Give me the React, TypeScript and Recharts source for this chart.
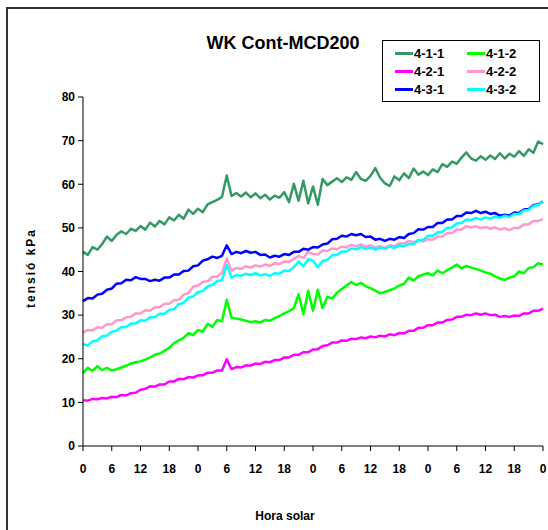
import { LineChart, Line, XAxis, YAxis } from 'recharts';

// hora solar: 4 days, hourly readings
const hours = Array.from({ length: 97 }, (_, i) => i);
const xTicks = [0, 6, 12, 18, 24, 30, 36, 42, 48, 54, 60, 66, 72, 78, 84, 90, 96];
const yTicks = [0, 10, 20, 30, 40, 50, 60, 70, 80];

const s411 = [
  44.5, 43.8, 45.6, 45.0, 46.3, 48.0, 47.0, 48.4, 49.2, 48.6, 49.8, 49.3, 50.4, 49.6, 51.2, 50.3, 51.6, 50.8, 52.4, 51.7, 53.0, 52.1, 54.2, 53.2,
  54.4, 53.6, 55.4, 55.9, 56.4, 57.1, 62.0, 57.3, 58.0, 57.2, 58.1, 57.0, 57.9, 56.8, 57.6, 56.5, 57.4, 56.9, 58.2, 55.9, 60.1, 56.2, 60.8, 55.6,
  59.5, 55.3, 61.2, 59.8, 60.6, 61.4, 60.5, 61.6, 61.0, 62.8, 61.2, 60.8, 61.9, 63.7, 61.5, 60.2, 59.6, 61.8, 60.9, 62.5, 61.4, 63.6, 62.2, 62.9,
  62.1, 63.4, 62.8, 64.6, 64.0, 65.2, 64.7, 66.1, 67.3, 65.9, 65.4, 66.4, 65.6, 66.6, 65.8, 67.1, 65.9, 67.0, 66.3, 67.6, 66.5, 68.0, 67.2, 69.8,
  69.2,
];
const s412 = [
  16.7, 17.9, 17.2, 18.3, 17.4, 17.9, 17.3, 17.6, 18.0, 18.4, 18.9, 19.2, 19.4, 19.8, 20.3, 20.9, 21.2, 21.8, 22.5, 23.6, 24.2, 24.8, 25.9, 25.4,
  26.6, 26.2, 28.0, 27.3, 28.9, 28.6, 33.5, 29.4, 29.2, 29.0, 28.7, 28.4, 28.6, 28.3, 28.9, 28.7, 29.3, 29.8, 30.4, 30.9, 31.6, 34.8, 30.2, 35.6,
  31.0, 35.8, 31.6, 34.2, 33.8, 35.1, 36.0, 36.8, 37.6, 36.9, 37.4, 36.6, 36.2, 35.6, 35.0, 35.3, 35.7, 36.1, 36.8, 37.2, 38.6, 37.9, 38.9, 39.3,
  39.6, 39.1, 40.2, 39.6, 40.3, 40.9, 41.6, 40.7, 41.3, 40.9, 40.6, 40.2, 39.8, 39.5, 38.9, 38.4, 38.1, 38.6, 38.9, 40.0, 39.6, 40.8, 41.0, 41.9,
  41.6,
];
const s421 = [
  10.5, 10.4, 10.8, 10.7, 11.0, 10.9, 11.3, 11.2, 11.7, 11.6, 12.1, 12.2, 12.9, 13.1, 13.7, 13.6, 14.1, 14.1, 14.8, 14.8, 15.4, 15.3, 15.8, 15.7,
  16.2, 16.2, 16.8, 16.8, 17.3, 17.3, 19.9, 17.6, 18.1, 18.0, 18.5, 18.4, 18.9, 18.8, 19.3, 19.2, 19.7, 19.7, 20.3, 20.3, 20.9, 20.9, 21.5, 21.5,
  22.1, 22.2, 22.9, 23.1, 23.7, 23.7, 24.2, 24.1, 24.6, 24.5, 24.9, 24.7, 25.1, 24.9, 25.3, 25.1, 25.6, 25.4, 25.9, 25.8, 26.4, 26.4, 27.1, 27.1,
  27.7, 27.7, 28.3, 28.3, 28.9, 29.0, 29.6, 29.6, 30.1, 30.0, 30.4, 30.1, 30.4, 30.0, 30.1, 29.6, 29.8, 29.6, 29.9, 29.8, 30.4, 30.4, 31.0, 31.0,
  31.5,
];
const s422 = [
  26.0, 26.6, 26.5, 27.2, 27.1, 27.9, 27.9, 28.8, 28.8, 29.5, 29.6, 30.4, 30.4, 31.1, 31.0, 31.8, 31.8, 32.6, 32.6, 33.4, 33.5, 34.7, 35.1, 36.5,
  36.8, 37.6, 37.8, 38.8, 38.8, 39.7, 43.0, 40.2, 40.8, 40.6, 41.2, 40.9, 41.4, 41.1, 41.6, 41.3, 41.9, 41.7, 42.3, 42.2, 42.9, 43.6, 43.1, 44.5,
  44.0, 43.9, 44.8, 44.7, 45.3, 45.1, 45.7, 45.5, 46.1, 45.8, 46.2, 45.7, 46.0, 45.5, 45.8, 45.4, 46.0, 45.8, 46.5, 46.4, 47.0, 46.7, 47.2, 46.9,
  47.4, 47.3, 48.0, 48.0, 48.8, 48.8, 49.6, 49.6, 50.4, 50.1, 50.4, 49.9, 50.2, 49.8, 50.1, 49.6, 49.9, 49.5, 50.0, 50.0, 50.8, 50.8, 51.6, 51.6,
  52.0,
];
const s431 = [
  33.2, 33.9, 33.8, 34.7, 34.9, 35.8, 36.1, 37.2, 37.3, 38.1, 38.0, 38.7, 38.3, 38.3, 37.8, 38.1, 37.9, 38.6, 38.6, 39.3, 39.3, 40.1, 40.2, 41.2,
  41.4, 42.5, 42.8, 43.4, 43.1, 43.6, 46.0, 44.0, 44.5, 44.2, 44.7, 44.3, 44.5, 43.8, 43.9, 43.2, 43.6, 43.4, 44.0, 43.8, 44.5, 44.5, 45.2, 45.0,
  45.6, 45.5, 46.2, 46.4, 47.4, 47.5, 48.2, 48.0, 48.6, 48.3, 48.6, 47.9, 48.0, 47.3, 47.5, 47.0, 47.5, 47.3, 47.9, 47.7, 48.6, 48.8, 49.7, 49.6,
  50.2, 50.2, 51.1, 51.1, 51.9, 51.9, 52.7, 52.7, 53.5, 53.4, 53.9, 53.4, 53.7, 53.2, 53.4, 52.8, 53.0, 52.8, 53.5, 53.4, 54.2, 54.3, 55.2, 55.4,
  56.0,
];
const s432 = [
  23.4, 23.0, 24.0, 24.2, 25.2, 25.3, 26.2, 26.4, 27.3, 27.3, 28.1, 28.1, 28.8, 28.7, 29.5, 29.5, 30.3, 30.3, 31.2, 31.4, 32.5, 32.8, 34.0, 34.3,
  35.3, 35.5, 36.6, 36.9, 37.8, 38.0, 41.5, 38.6, 39.2, 39.0, 39.5, 39.2, 39.6, 39.1, 39.4, 39.0, 39.6, 39.5, 40.2, 40.1, 41.0, 42.3, 41.2, 42.8,
  42.5, 41.0, 42.4, 42.7, 43.7, 43.8, 44.6, 44.6, 45.3, 45.1, 45.6, 45.2, 45.5, 45.0, 45.5, 45.2, 45.7, 45.4, 46.0, 45.8, 46.3, 46.3, 47.2, 47.3,
  48.2, 48.2, 49.0, 49.1, 50.0, 50.1, 51.0, 51.1, 51.9, 51.8, 52.3, 51.9, 52.4, 52.1, 52.6, 52.3, 52.8, 52.5, 53.2, 53.2, 54.0, 54.1, 55.0, 55.3,
  56.0,
];

const series = [
  { key: '4-1-1', values: s411, color: '#339966' },
  { key: '4-1-2', values: s412, color: '#00FF00' },
  { key: '4-2-1', values: s421, color: '#FF00FF' },
  { key: '4-2-2', values: s422, color: '#FF99CC' },
  { key: '4-3-1', values: s431, color: '#0000FF' },
  { key: '4-3-2', values: s432, color: '#00FFFF' },
];

const data = hours.map((h, i) => {
  const row: Record<string, number> = { h };
  series.forEach((s) => { row[s.key] = s.values[i]; });
  return row;
});

const font = '"Liberation Sans", Arial, sans-serif';
const tickStyle = { fontFamily: font, fontSize: 12, fontWeight: 700, fill: '#000' };

export default function App() {
  return (
    <div style={{ position: 'absolute', left: 0, top: 0, width: 548, height: 530, background: '#fff', overflow: 'hidden', fontFamily: font }}>
      <div style={{ position: 'absolute', left: 6, top: 7, width: 600, height: 600, border: '2px solid #333' }} />
      <div style={{ position: 'absolute', left: 0, top: 0 }}>
        <LineChart width={548} height={530} data={data} margin={{ top: 97, right: 5, bottom: 0, left: 0 }}>
          <XAxis
            dataKey="h"
            type="number"
            domain={[0, 96]}
            ticks={xTicks}
            tickFormatter={(v: number) => String(v % 24)}
            tick={tickStyle}
            tickSize={5}
            tickMargin={13}
            stroke="#000"
            height={84}
            interval={0}
          />
          <YAxis
            type="number"
            domain={[0, 80]}
            ticks={yTicks}
            tick={tickStyle}
            tickSize={5}
            tickMargin={3}
            stroke="#000"
            width={83}
            interval={0}
          />
          {series.map((s) => (
            <Line
              key={s.key}
              dataKey={s.key}
              type="linear"
              stroke={s.color}
              strokeWidth={2.5}
              strokeLinejoin="round"
              dot={false}
              isAnimationActive={false}
            />
          ))}
        </LineChart>
      </div>
      <div style={{ position: 'absolute', left: 150, width: 266, top: 33, textAlign: 'center', fontSize: 18, fontWeight: 700 }}>
        WK Cont-MCD200
      </div>
      <div
        style={{
          position: 'absolute', left: 31, top: 268, transform: 'translate(-50%, -50%) rotate(-90deg)',
          fontSize: 12, fontWeight: 700, letterSpacing: 2, whiteSpace: 'nowrap',
        }}
      >
        tensió kPa
      </div>
      <div style={{ position: 'absolute', left: 230, width: 110, top: 509, textAlign: 'center', fontSize: 12, fontWeight: 700 }}>
        Hora solar
      </div>
      <div
        style={{
          position: 'absolute', left: 382, top: 40, width: 158, height: 62, border: '1px solid #000', background: '#fff',
          display: 'grid', gridTemplateColumns: '1fr 1fr', gridTemplateRows: 'repeat(3, 1fr)', boxSizing: 'border-box',
          padding: '3px 0 3px 12px',
        }}
      >
        {series.map((s) => (
          <div key={s.key} style={{ display: 'flex', alignItems: 'center', fontSize: 13, fontWeight: 700 }}>
            <span style={{ display: 'inline-block', width: 18, height: 3, background: s.color, marginRight: 1 }} />
            {s.key}
          </div>
        ))}
      </div>
    </div>
  );
}
